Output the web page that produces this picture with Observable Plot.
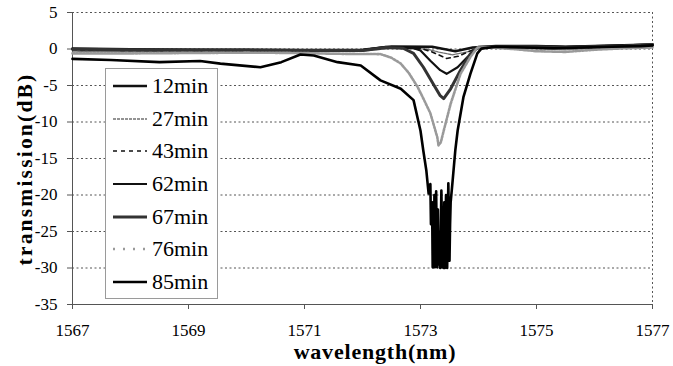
<!DOCTYPE html>
<html>
<head>
<meta charset="utf-8">
<script src="https://cdn.jsdelivr.net/npm/d3@7"></script>
<script src="https://cdn.jsdelivr.net/npm/@observablehq/plot@0.6"></script>
<style>
  html, body { margin: 0; padding: 0; background: #fff; }
  #wrap { position: relative; width: 673px; height: 366px; font-family: "Liberation Serif", "DejaVu Serif", serif; color: #000; }
  #wrap > svg { position: absolute; left: 0; top: 0; font-family: "Liberation Serif", "DejaVu Serif", serif !important; }
  #wrap > svg text { font-family: "Liberation Serif", "DejaVu Serif", serif !important; }
  .ttl { position: absolute; font-weight: bold; font-size: 22px; white-space: nowrap; line-height: 1; font-family: "Liberation Serif", "DejaVu Serif", serif; }
  #xt { left: 375px; top: 341px; transform: translateX(-50%); letter-spacing: 0.8px; }
  #yt { left: 26px; top: 169px; transform: translate(-50%, -50%) rotate(-90deg); letter-spacing: 2.2px; font-size: 21.5px; }
  #legend { position: absolute; left: 105px; top: 68px; width: 111px; height: 228px; border: 1px solid #9a9a9a; background: #fff; box-sizing: content-box; padding-top: 1px; font-family: "Liberation Serif", "DejaVu Serif", serif; }
  .row { height: 32.6px; display: flex; align-items: center; font-size: 22px; }
  .row svg { display: block; margin-left: 7px; margin-right: 5px; flex: none; }
</style>
</head>
<body>
<div id="wrap"></div>
<script>
// ---- data ----
const seriesNames = ["12min", "27min", "43min", "62min", "67min", "76min", "85min"];
const xTicks = [1567, 1569, 1571, 1573, 1575, 1577];
const yTicks = [-35, -30, -25, -20, -15, -10, -5, 0, 5];

const wl12 = [1567, 1568, 1569, 1570, 1571, 1572, 1572.5, 1573.2, 1573.6, 1573.9, 1574.3, 1575, 1575.5, 1576, 1576.5, 1577];
const db12 = [0.05, -0.05, -0.1, -0.1, -0.15, -0.1, 0.35, 0.3, -0.3, 0.2, 0.4, 0.4, 0.3, 0.4, 0.5, 0.6];

const wl27 = [1567, 1568, 1569, 1570, 1571, 1572, 1572.5, 1573.1, 1573.3, 1573.55, 1573.8, 1574.0, 1574.5, 1575, 1575.5, 1576, 1576.5, 1577];
const db27 = [-0.3, -0.35, -0.3, -0.35, -0.4, -0.3, 0.1, 0.0, -0.4, -0.8, -0.4, 0.1, 0.2, 0.0, -0.1, 0.1, 0.2, 0.3];

const wl43 = [1567, 1568, 1569, 1570, 1571, 1572, 1572.5, 1573.0, 1573.2, 1573.45, 1573.65, 1573.85, 1574.0, 1574.5, 1575, 1575.5, 1576, 1576.5, 1577];
const db43 = [-0.1, -0.2, -0.2, -0.25, -0.3, -0.2, 0.2, 0.1, -0.4, -1.3, -1.0, -0.3, 0.2, 0.3, 0.2, 0.1, 0.2, 0.3, 0.4];

const wl62 = [1567, 1568, 1569, 1570, 1571, 1572, 1572.4, 1572.88, 1573.0, 1573.17, 1573.34, 1573.45, 1573.64, 1573.81, 1573.98, 1574.5, 1575, 1575.5, 1576, 1576.5, 1577];
const db62 = [0.0, -0.1, -0.1, -0.2, -0.2, -0.15, 0.3, 0.1, -0.2, -1.6, -2.9, -3.4, -2.5, -1.1, 0.1, 0.4, 0.4, 0.3, 0.4, 0.5, 0.6];

const wl67 = [1567, 1568, 1569, 1570, 1571, 1572, 1572.4, 1572.7, 1572.88, 1573.05, 1573.22, 1573.34, 1573.4, 1573.52, 1573.69, 1573.86, 1574.0, 1574.5, 1575, 1575.5, 1576, 1576.5, 1577];
const db67 = [-0.05, -0.1, -0.15, -0.15, -0.2, -0.2, 0.2, 0.1, -0.6, -2.5, -4.8, -6.4, -6.8, -5.45, -2.9, -0.66, 0.25, 0.3, 0.3, 0.2, 0.3, 0.4, 0.6];

const wl76 = [1567, 1568, 1569, 1570, 1571, 1571.45, 1572.31, 1572.5, 1572.66, 1572.8, 1572.95, 1573.05, 1573.17, 1573.29, 1573.31, 1573.35, 1573.4, 1573.52, 1573.69, 1573.86, 1573.98, 1574.2, 1574.6, 1575, 1575.5, 1576, 1576.5, 1577];
const db76 = [-0.6, -0.6, -0.55, -0.5, -0.55, -0.65, -0.7, -1.2, -2.0, -3.3, -5.2, -6.8, -8.8, -12.1, -13.2, -12.8, -11.2, -7.5, -3.4, -1.1, 0.2, 0.2, 0.0, -0.3, -0.4, -0.1, 0.1, 0.2];

const wl85 = [1567, 1567.66, 1568.5, 1569.2, 1569.55, 1570.24, 1570.6, 1570.93, 1571.16, 1571.57, 1571.97, 1572.31, 1572.66, 1572.88, 1573.0, 1573.05, 1573.1, 1573.14, 1573.17, 1573.18, 1573.2, 1573.21, 1573.22, 1573.23, 1573.24, 1573.25, 1573.27, 1573.28, 1573.29, 1573.3, 1573.31, 1573.33, 1573.34, 1573.36, 1573.38, 1573.39, 1573.4, 1573.41, 1573.42, 1573.43, 1573.44, 1573.46, 1573.47, 1573.48, 1573.5, 1573.51, 1573.52, 1573.55, 1573.6, 1573.64, 1573.74, 1573.86, 1573.98, 1574.05, 1574.3, 1574.8, 1575.3, 1575.8, 1576.3, 1576.8, 1577];
const db85 = [-1.35, -1.5, -1.8, -1.65, -2.0, -2.5, -1.8, -0.75, -0.9, -1.8, -2.25, -4.3, -5.45, -7.0, -11.2, -14.0, -16.6, -19.8, -18.5, -24, -21, -29.9, -23, -29.9, -20, -29.9, -19.5, -27, -29.9, -22, -29.5, -25, -30, -19.4, -29.9, -24, -30, -21, -30, -25, -20, -30, -23, -18.4, -29, -24, -21, -18.4, -13.9, -11.2, -6.6, -3.4, -0.6, 0.05, 0.3, 0.2, 0.1, 0.2, 0.3, 0.4, 0.5];

// ---- build table ----
const wls = [wl12, wl27, wl43, wl62, wl67, wl76, wl85];
const dbs = [db12, db27, db43, db62, db67, db76, db85];
const styles = {
  "12min": {stroke: "#111", strokeWidth: 2.6},
  "27min": {stroke: "#707070", strokeWidth: 1.3, strokeDasharray: "3,1"},
  "43min": {stroke: "#111", strokeWidth: 1.6, strokeDasharray: "4,4"},
  "62min": {stroke: "#111", strokeWidth: 2.2},
  "67min": {stroke: "#333", strokeWidth: 3},
  "76min": {stroke: "#9a9a9a", strokeWidth: 2.6, strokeDasharray: "2,1.5"},
  "85min": {stroke: "#000", strokeWidth: 2.6}
};
const rows = seriesNames.map((s, i) => wls[i].map((w, j) => ({series: s, wl: w, db: dbs[i][j]})));

const gridVals = yTicks.filter(v => v > -35);

const chart = Plot.plot({
  width: 673,
  height: 366,
  marginLeft: 72,
  marginRight: 21,
  marginTop: 12,
  marginBottom: 62,
  style: {fontFamily: "Liberation Serif, DejaVu Serif, serif", fontSize: "17px", background: "transparent", color: "#000"},
  x: {domain: [1567, 1577]},
  y: {domain: [-35, 5]},
  marks: [
    Plot.ruleY(gridVals, {stroke: "#555", strokeWidth: 1, strokeDasharray: "2,2.5"}),
    Plot.ruleX([1577], {stroke: "#555", strokeWidth: 1, strokeDasharray: "2,2.5"}),
    Plot.ruleX([1567], {stroke: "#555", strokeWidth: 1}),
    Plot.ruleY([-35], {stroke: "#555", strokeWidth: 1}),
    Plot.axisY({ticks: yTicks, tickSize: 5, tickPadding: 10, label: null, tickFormat: d => String(d), stroke: "#555", fontSize: 17, fontFamily: "Liberation Serif, DejaVu Serif, serif"}),
    Plot.axisX({ticks: xTicks, tickSize: 5, tickPadding: 14, label: null, tickFormat: d => String(d), stroke: "#555", fontSize: 17, fontFamily: "Liberation Serif, DejaVu Serif, serif"}),
    ...seriesNames.map((s, i) => Plot.line(rows[i], {x: "wl", y: "db", ...styles[s], strokeLinejoin: "round"}))
  ]
});

const wrap = document.getElementById("wrap");
wrap.appendChild(chart);

// axis titles
const xt = document.createElement("div"); xt.className = "ttl"; xt.id = "xt"; xt.textContent = "wavelength(nm)"; wrap.appendChild(xt);
const yt = document.createElement("div"); yt.className = "ttl"; yt.id = "yt"; yt.textContent = "transmission(dB)"; wrap.appendChild(yt);

// legend
const lg = document.createElement("div"); lg.id = "legend";
seriesNames.forEach(s => {
  const st = styles[s];
  const r = document.createElement("div"); r.className = "row";
  const ns = "http://www.w3.org/2000/svg";
  const sv = document.createElementNS(ns, "svg");
  sv.setAttribute("width", 34); sv.setAttribute("height", 8);
  const ln = document.createElementNS(ns, "line");
  ln.setAttribute("x1", 0); ln.setAttribute("x2", 34); ln.setAttribute("y1", 4); ln.setAttribute("y2", 4);
  ln.setAttribute("stroke", st.stroke); ln.setAttribute("stroke-width", st.strokeWidth);
  if (st.strokeDasharray) ln.setAttribute("stroke-dasharray", s === "76min" ? "2,8" : st.strokeDasharray);
  sv.appendChild(ln);
  r.appendChild(sv);
  const t = document.createElement("span"); t.textContent = s; r.appendChild(t);
  lg.appendChild(r);
});
wrap.appendChild(lg);
</script>
</body>
</html>
